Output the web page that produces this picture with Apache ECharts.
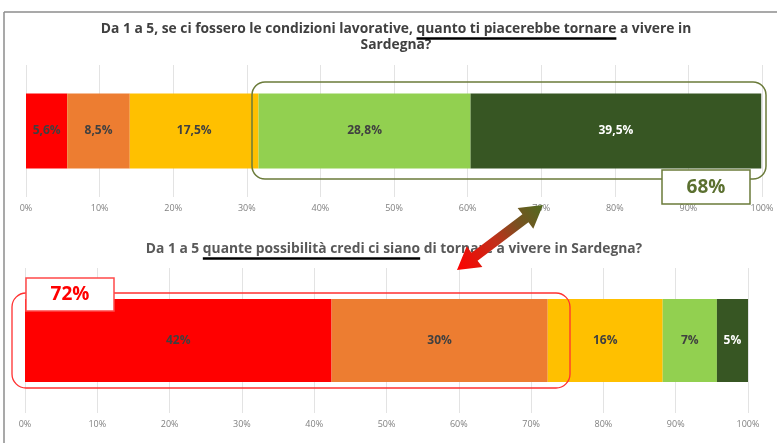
<!DOCTYPE html>
<html>
<head>
<meta charset="utf-8">
<script src="https://cdn.jsdelivr.net/npm/echarts@6/dist/echarts.min.js"></script>
<style>html,body{margin:0;padding:0;background:#fff}#c{width:777px;height:443px}</style>
</head>
<body>
<div id="c"></div>
<script>
const levels = ['1', '2', '3', '4', '5'];
const topValues = [5.6, 8.5, 17.5, 28.8, 39.5];
const topLabels = ['5,6%', '8,5%', '17,5%', '28,8%', '39,5%'];
const bottomValues = [42.4, 29.9, 15.9, 7.5, 4.3];
const bottomLabels = ['42%', '30%', '16%', '7%', '5%'];
const tickValues = [0, 10, 20, 30, 40, 50, 60, 70, 80, 90, 100];
const colors = ['#FF0000', '#ED7D31', '#FFC000', '#92D050', '#375623'];
const labelColors = ['#404040', '#404040', '#404040', '#404040', '#ffffff'];
const topTitlePre = 'Da 1 a 5, se ci fossero le condizioni lavorative, ';
const topTitleUnder = 'quanto ti piacerebbe tornare';
const topTitlePost = ' a vivere in';
const topTitle2 = 'Sardegna?';
const botTitlePre = 'Da 1 a 5 ';
const botTitleUnder = 'quante possibilità credi ci siano';
const botTitlePost = ' di tornare a vivere in Sardegna?';

const chart = echarts.init(document.getElementById('c'), null, {renderer: 'canvas'});
const FONT = 'Open Sans';
const TFONT = 'bold 13.8px "' + FONT + '"';

const mctx = document.createElement('canvas').getContext('2d');
mctx.font = TFONT;
const mw = s => mctx.measureText(s).width;

function underline(pre, under, post, cx, y) {
  const total = mw(pre + under + post);
  const x0 = cx - total / 2 + mw(pre);
  return {x1: x0, x2: x0 + mw(under), y1: y, y2: y};
}

function xAxisCfg(gridIndex) {
  return {
    type: 'value', gridIndex, min: tickValues[0], max: tickValues[tickValues.length - 1], interval: 10,
    axisLine: {show: false}, axisTick: {show: false},
    splitLine: {show: true, lineStyle: {color: '#e3e3e3', width: 1}},
    axisLabel: {formatter: '{value}%', color: '#808080', fontSize: 9, fontFamily: FONT, margin: 7}
  };
}
function yAxisCfg(gridIndex) {
  return {type: 'category', gridIndex, data: ['q'], show: false};
}
const series = [];
levels.forEach((lv, i) => {
  series.push({
    name: 'top' + lv, type: 'bar', stack: 'top', xAxisIndex: 0, yAxisIndex: 0,
    data: [topValues[i]], barWidth: 75,
    itemStyle: {color: colors[i]},
    label: {show: true, position: 'inside', formatter: () => topLabels[i], color: labelColors[i],
      fontSize: 12, fontWeight: 'bold', fontFamily: FONT},
    silent: true
  });
});
levels.forEach((lv, i) => {
  series.push({
    name: 'bot' + lv, type: 'bar', stack: 'bot', xAxisIndex: 1, yAxisIndex: 1,
    data: [bottomValues[i]], barWidth: 83,
    itemStyle: {color: colors[i]},
    label: {show: true, position: 'inside', formatter: () => bottomLabels[i], color: labelColors[i],
      fontSize: 12, fontWeight: 'bold', fontFamily: FONT},
    silent: true
  });
});

// double-headed arrow geometry
const T = [457, 270], H = [543, 205];
const dx = H[0] - T[0], dy = H[1] - T[1], L = Math.hypot(dx, dy);
const u = [dx / L, dy / L], n = [-u[1], u[0]];
const hl = 22, hw = 13, sw = 5;
const Hb = [H[0] - u[0] * hl, H[1] - u[1] * hl], Tb = [T[0] + u[0] * hl, T[1] + u[1] * hl];
const p = (b, s) => [b[0] + n[0] * s, b[1] + n[1] * s];
const arrowPts = [H, p(Hb, hw), p(Hb, sw), p(Tb, sw), p(Tb, hw), T, p(Tb, -hw), p(Tb, -sw), p(Hb, -sw), p(Hb, -hw)];

const topCx = 396, botCx = 394;

chart.setOption({
  animation: false,
  backgroundColor: '#ffffff',
  grid: [
    {left: 26, right: 15, top: 65, height: 132},
    {left: 25, right: 29, top: 268, height: 145}
  ],
  xAxis: [xAxisCfg(0), xAxisCfg(1)],
  yAxis: [yAxisCfg(0), yAxisCfg(1)],
  series,
  graphic: [
    // frame
    {type: 'line', shape: {x1: 4, y1: 12, x2: 777, y2: 12}, style: {stroke: '#8c8c8c', lineWidth: 1.5}, z: 100},
    {type: 'line', shape: {x1: 4, y1: 12, x2: 4, y2: 443}, style: {stroke: '#8c8c8c', lineWidth: 1.5}, z: 100},
    // titles
    {type: 'text', x: topCx, y: 29, style: {text: topTitlePre + topTitleUnder + topTitlePost, fill: '#404040', font: TFONT, textAlign: 'center', textVerticalAlign: 'middle'}, z: 100},
    {type: 'text', x: topCx, y: 45, style: {text: topTitle2, fill: '#404040', font: TFONT, textAlign: 'center', textVerticalAlign: 'middle'}, z: 100},
    {type: 'line', shape: underline(topTitlePre, topTitleUnder, topTitlePost, topCx, 38.5), style: {stroke: '#000000', lineWidth: 2.5}, z: 100},
    {type: 'text', x: botCx, y: 249, style: {text: botTitlePre + botTitleUnder + botTitlePost, fill: '#595959', font: TFONT, textAlign: 'center', textVerticalAlign: 'middle'}, z: 100},
    {type: 'line', shape: underline(botTitlePre, botTitleUnder, botTitlePost, botCx, 258.5), style: {stroke: '#000000', lineWidth: 2.5}, z: 100},
    // top rounded highlight
    {type: 'rect', shape: {x: 252, y: 82, width: 514, height: 97, r: 13}, style: {fill: 'none', stroke: '#6b7b3a', lineWidth: 1.5}, z: 100},
    {type: 'rect', shape: {x: 662, y: 170, width: 88, height: 34}, style: {fill: '#ffffff', stroke: '#6b7b3a', lineWidth: 1.5}, z: 101},
    {type: 'text', x: 706, y: 187.5, style: {text: '68%', fill: '#5b7030', font: 'bold 19px "' + FONT + '"', textAlign: 'center', textVerticalAlign: 'middle'}, z: 102},
    // bottom rounded highlight
    {type: 'rect', shape: {x: 12, y: 293, width: 558, height: 95, r: 14}, style: {fill: 'none', stroke: '#ff3030', lineWidth: 1.3}, z: 100},
    {type: 'rect', shape: {x: 26, y: 278, width: 88, height: 33}, style: {fill: '#ffffff', stroke: '#ff4a4a', lineWidth: 1.5}, z: 101},
    {type: 'text', x: 70, y: 295, style: {text: '72%', fill: '#ff0000', font: 'bold 19px "' + FONT + '"', textAlign: 'center', textVerticalAlign: 'middle'}, z: 102},
    // arrow
    {type: 'polygon', shape: {points: arrowPts}, z: 103,
      style: {fill: new echarts.graphic.LinearGradient(0, 1, 1, 0, [
        {offset: 0, color: '#ff0000'}, {offset: 0.45, color: '#c0301a'}, {offset: 0.7, color: '#7a5020'}, {offset: 1, color: '#4f6b1f'}])}}
  ]
});
</script>
</body>
</html>
